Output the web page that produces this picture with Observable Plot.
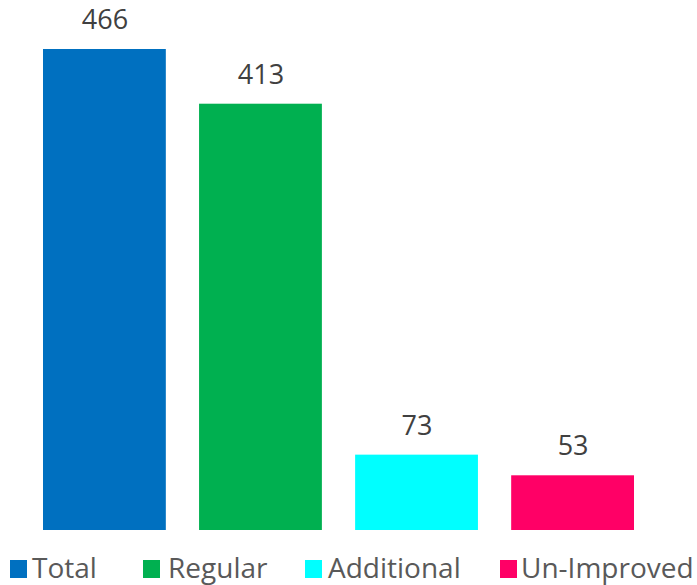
<!DOCTYPE html>
<html>
<head>
<meta charset="utf-8">
<script src="https://cdn.jsdelivr.net/npm/d3@7"></script>
<script src="https://cdn.jsdelivr.net/npm/@observablehq/plot@0.6"></script>
<style>
  body { margin: 0; background: #fff; font-family: "Open Sans", sans-serif; }
  #wrap { position: relative; width: 697px; height: 585px; }
  #legend { position: absolute; left: 0; top: 545px; }
</style>
</head>
<body>
<div id="wrap"><div id="chart"></div><div id="legend"></div></div>
<script>
const categories = ["Total", "Regular", "Additional", "Un-Improved"];
const values = [466, 413, 73, 53];
const colors = ["#0070C0", "#00B050", "#00FFFF", "#FF0066"];

const data = categories.map((c, i) => ({category: c, value: values[i]}));

const chart = Plot.plot({
  width: 697,
  height: 545,
  marginLeft: 43,
  marginRight: 63,
  marginTop: 49,
  marginBottom: 15,
  style: {fontFamily: "Open Sans, sans-serif", background: "#fff"},
  x: {domain: categories, paddingInner: 0.213, paddingOuter: 0, round: false, axis: null},
  y: {domain: [0, d3.max(values)], axis: null},
  color: {domain: categories, range: colors},
  marks: [
    Plot.barY(data, {x: "category", y: "value", fill: "category"}),
    Plot.text(data, {x: "category", y: "value", text: d => String(d.value), dy: -29, fontSize: 27, fill: "#404040"})
  ]
});
document.getElementById("chart").appendChild(chart);

// Legend (below the chart)
const swatchX = [10, 143, 305, 500];
const textX = [32, 168, 328, 521];
const svg = d3.select("#legend").append("svg")
  .attr("width", 697).attr("height", 40)
  .style("font-family", "Open Sans, sans-serif");
categories.forEach((c, i) => {
  svg.append("rect").attr("x", swatchX[i]).attr("y", 15).attr("width", 17).attr("height", 18).attr("fill", colors[i]);
  svg.append("text").attr("x", textX[i]).attr("y", 33).attr("font-size", 28).attr("fill", "#595959").text(c);
});
</script>
</body>
</html>
